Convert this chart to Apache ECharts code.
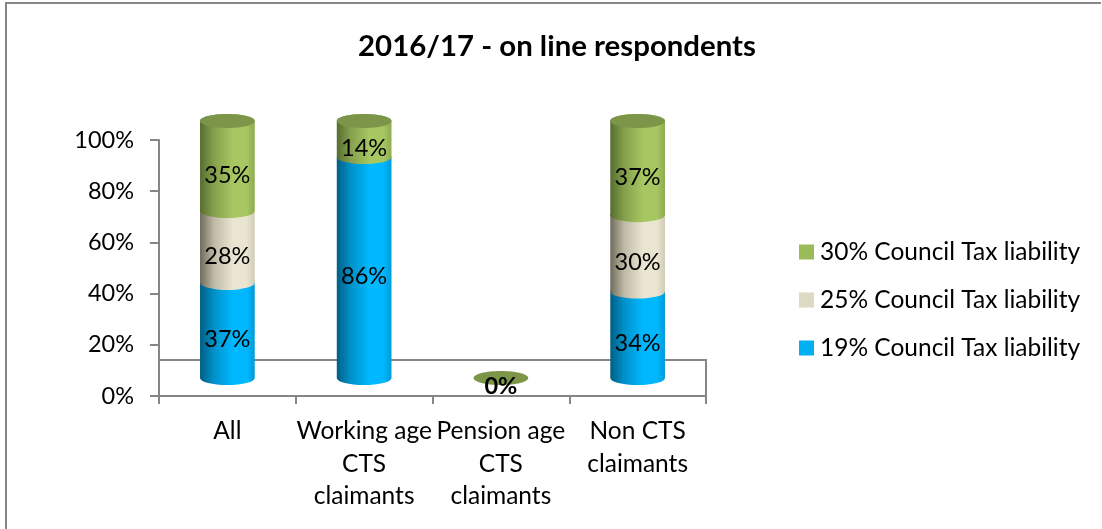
<!DOCTYPE html>
<html>
<head>
<meta charset="utf-8">
<script src="https://cdn.jsdelivr.net/npm/echarts@6/dist/echarts.min.js"></script>
<style>
  html, body { margin: 0; padding: 0; background: #fff; }
  #chart { width: 1102px; height: 529px; }
</style>
</head>
<body>
<div id="chart"></div>
<script>
const categories = ['All', 'Working age\nCTS\nclaimants', 'Pension age\nCTS\nclaimants', 'Non CTS\nclaimants']
const tickLabels = ['0%', '20%', '40%', '60%', '80%', '100%']
const names = ['19% Council Tax liability', '25% Council Tax liability', '30% Council Tax liability']
const liability19 = [37, 86, 0, 34]
const liability25 = [28, 0, 0, 30]
const liability30 = [35, 14, 0, 37]

const seriesValues = [liability19, liability25, liability30]
const legendColors = ['#00b0f0', '#ddd9c3', '#9bbb59']
const bodyStops = [
  ['#005f85', '#0090c8', '#00b8ff', '#00b8ff', '#009ad6'],
  ['#6f6b5c', '#bdb9a4', '#e9e5d0', '#e9e5d0', '#cfcbb6'],
  ['#566d30', '#84a04c', '#a6c762', '#a6c762', '#8dab50']
]
const capColor = '#7c9549'
const font = 'Lato'

// share of the column (0-100) below the top of a given segment
function stackTop(cat, upto) {
  let total = 0
  let sum = 0
  seriesValues.forEach((vals, i) => {
    total += vals[cat]
    if (i <= upto) sum += vals[cat]
  })
  return total ? sum / total * 100 : 0
}

function cylinderItem(si) {
  return function (params, api) {
    const cat = api.value(0)
    const low = si ? stackTop(cat, si - 1) : 0
    const high = stackTop(cat, si)
    const x = api.coord([cat, 0])[0]
    const y0 = api.coord([cat, low])[1]
    const y1 = api.coord([cat, high])[1]
    const rx = api.size([1, 0])[0] * 0.2
    const ry = 7
    const empty = high === 0
    const children = []
    const value = seriesValues[si][cat]

    if (value > 0) {
      children.push({
        type: 'path',
        shape: {
          pathData: `M${x - rx} ${y1} L${x - rx} ${y0} A${rx} ${ry} 0 0 0 ${x + rx} ${y0} L${x + rx} ${y1} A${rx} ${ry} 0 0 0 ${x - rx} ${y1} Z`
        },
        style: {
          fill: {
            type: 'linear', x: 0, y: 0, x2: 1, y2: 0,
            colorStops: bodyStops[si].map((c, i) => ({ offset: [0, 0.25, 0.6, 0.85, 1][i], color: c }))
          }
        }
      })
    }
    // top cap of the column, also what is left of an empty one
    if (si === seriesValues.length - 1) {
      children.push({
        type: 'ellipse',
        shape: { cx: x, cy: y1, rx: rx, ry: ry },
        style: { fill: capColor }
      })
    }
    if (value > 0 || (empty && si === seriesValues.length - 1)) {
      children.push({
        type: 'text',
        style: {
          x: x,
          y: empty ? y1 + 8 : (y0 + y1) / 2 + 9,
          text: value + '%',
          fill: '#000',
          font: (empty ? 'bold ' : '') + '23.5px ' + font,
          align: 'center',
          verticalAlign: 'middle'
        }
      })
    }
    return { type: 'group', children: children }
  }
}

const chart = echarts.init(document.getElementById('chart'))
chart.setOption({
  animation: false,
  backgroundColor: '#fff',
  graphic: [{
    type: 'polyline',
    shape: { points: [[6, 529], [6, 3], [1101, 3]] },
    style: { fill: 'none', stroke: '#868686', lineWidth: 2 },
    z: -1
  }],
  title: {
    text: '2016/17 - on line respondents',
    left: 552,
    top: 27,
    textAlign: 'center',
    textStyle: { fontFamily: font, fontSize: 29.4, fontWeight: 'bold', color: '#000' }
  },
  legend: {
    orient: 'vertical',
    left: 799,
    top: 237,
    padding: 0,
    itemWidth: 15,
    itemHeight: 15,
    itemGap: 18,
    icon: 'rect',
    data: names.slice().reverse(),
    textStyle: { fontFamily: font, fontSize: 24.5, lineHeight: 30, color: '#000', padding: [0, 0, 0, 1] }
  },
  grid: [
    // axes
    { left: 159, right: 396, top: 140, height: 256 },
    // columns sit on the raised floor of the 3D plot
    { left: 159, right: 396, top: 121, height: 257 },
    // floor outline
    { left: 159, right: 396, top: 360, height: 36, show: true, borderColor: '#868686', borderWidth: 2, backgroundColor: 'transparent' }
  ],
  xAxis: [
    {
      type: 'category',
      gridIndex: 0,
      data: categories,
      axisLine: { lineStyle: { color: '#868686', width: 2 } },
      axisTick: { show: true, length: 8, alignWithLabel: false, lineStyle: { color: '#868686', width: 2 } },
      axisLabel: { fontFamily: font, fontSize: 24.5, color: '#000', lineHeight: 32.5, margin: 19, interval: 0 }
    },
    { type: 'category', gridIndex: 1, data: categories, show: false },
    { type: 'category', gridIndex: 2, data: categories, show: false }
  ],
  yAxis: [
    {
      type: 'value',
      gridIndex: 0,
      min: 0,
      max: 100,
      interval: 20,
      splitLine: { show: false },
      axisLine: { show: true, lineStyle: { color: '#868686', width: 2 } },
      axisTick: { show: true, length: 9, lineStyle: { color: '#868686', width: 2 } },
      axisLabel: {
        fontFamily: font, fontSize: 23.5, color: '#000', margin: 25,
        formatter: (v) => tickLabels[v / 20]
      }
    },
    { type: 'value', gridIndex: 1, min: 0, max: 100, show: false },
    { type: 'value', gridIndex: 2, min: 0, max: 100, show: false }
  ],
  series: names.map((name, si) => ({
    name: name,
    type: 'custom',
    xAxisIndex: 1,
    yAxisIndex: 1,
    z: 3 + si,
    itemStyle: { color: legendColors[si] },
    encode: { x: 0, y: 1 },
    data: seriesValues[si].map((v, i) => [i, v]),
    renderItem: cylinderItem(si)
  }))
})
</script>
</body>
</html>
